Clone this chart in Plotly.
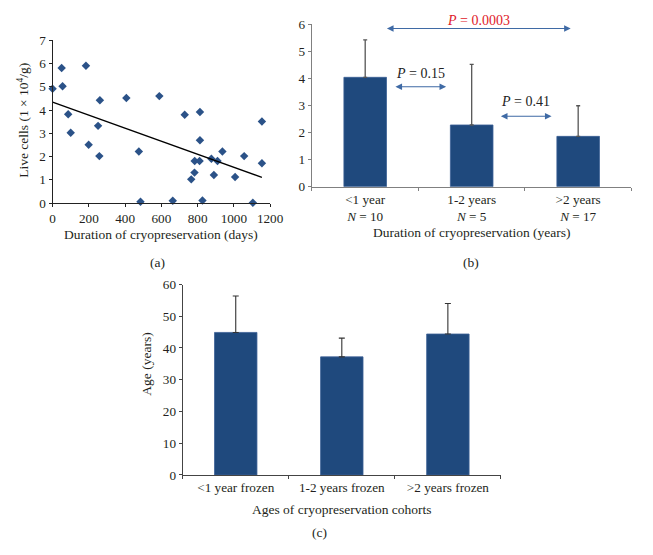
import numpy as np
import plotly.graph_objects as go

# ---------------- data ----------------
days = [0, 50, 55, 184, 86, 100, 199, 251, 261, 258, 407, 476, 485, 589, 663, 729,
        765, 783, 784, 811, 813, 813, 827, 876, 890, 910, 937, 1007, 1057, 1105, 1155, 1155]
live_cells = [4.92, 5.81, 5.02, 5.91, 3.82, 3.02, 2.51, 3.32, 4.42, 2.02, 4.52, 2.22, 0.06, 4.6, 0.1, 3.8,
              1.02, 1.31, 1.81, 1.81, 3.92, 2.7, 0.11, 1.91, 1.21, 1.81, 2.22, 1.12, 2.02, 0.01, 3.51, 1.71]

groups = ["<1 year", "1-2 years", ">2 years"]
group_labels = ["&lt;1 year", "1-2 years", "&gt;2 years"]
group_n = [10, 5, 17]
group_mean = [4.04, 2.28, 1.86]
group_sd = [1.38, 2.24, 1.13]

p_texts = ["P = 0.15", "P = 0.41", "P = 0.0003"]
p_colors = ["#222222", "#222222", "#e0202a"]
p_x0 = [0.27, 1.26, 0.19]
p_x1 = [0.76, 1.75, 1.93]
p_arrow_y = [3.69, 2.60, 5.84]
p_text_y = [4.19, 3.14, 6.13]

cohorts = ["<1 year frozen", "1-2 years frozen", ">2 years frozen"]
cohort_labels = ["&lt;1 year frozen", "1-2 years frozen", "&gt;2 years frozen"]
age_mean = [44.9, 37.2, 44.4]
age_sd = [11.5, 5.9, 9.6]

# ---------------- style ----------------
W, H = 653, 555
OFF = 8  # default page body margin
FONT = "Liberation Serif"
TXT = "#231f20"
BAR = "#1F497D"
MARK = "#2b5288"
TICK_SIZE = 13.2
TITLE_SIZE = 13.5


def px_x(p):
    return (p - OFF) / W


def px_y(p):
    return 1 - (p - OFF) / H


fig = go.Figure()

# (a) scatter + trend
fig.add_trace(go.Scatter(x=days, y=live_cells, mode="markers",
                         marker=dict(symbol="diamond", size=6.5, color=MARK),
                         xaxis="x", yaxis="y", showlegend=False, cliponaxis=False))
slope, intercept = np.polyfit(days, live_cells, 1)
xfit = [min(days), max(days)]
yfit = [intercept + slope * v for v in xfit]
fig.add_trace(go.Scatter(x=xfit, y=yfit, mode="lines", line=dict(color="black", width=1.3),
                         xaxis="x", yaxis="y", showlegend=False))

# (b) bars
fig.add_trace(go.Bar(x=groups, y=group_mean, marker=dict(color=BAR, line=dict(color="#3b6096", width=0.8)),
                     error_y=dict(type="data", array=group_sd, arrayminus=[0] * 3, symmetric=False,
                                  color="#555555", thickness=1.3, width=2),
                     xaxis="x2", yaxis="y2", showlegend=False))

# (c) bars
fig.add_trace(go.Bar(x=cohorts, y=age_mean, marker=dict(color=BAR, line=dict(color="#3b6096", width=0.8)),
                     error_y=dict(type="data", array=age_sd, arrayminus=[0] * 3, symmetric=False,
                                  color="#333333", thickness=1.1, width=3),
                     xaxis="x3", yaxis="y3", showlegend=False))

tickfont = dict(family=FONT, size=TICK_SIZE, color=TXT)

fig.update_layout(
    width=W, height=H, margin=dict(l=0, r=0, t=0, b=0),
    paper_bgcolor="white", plot_bgcolor="white",
    font=dict(family=FONT, color=TXT, size=TICK_SIZE),
    bargap=0.6,
    xaxis=dict(domain=[px_x(50.7), px_x(274)], range=[0, 1200], dtick=200, showgrid=False,
               zeroline=False, showline=True, linecolor="#222", linewidth=1, ticks="outside",
               ticklen=3, tickcolor="#222", tickfont=tickfont, anchor="y"),
    yaxis=dict(domain=[px_y(201.3), px_y(34)], range=[0, 7], dtick=1, showgrid=False,
               zeroline=False, showline=True, linecolor="#222", linewidth=1, ticks="outside",
               ticklen=3, tickcolor="#222", tickfont=tickfont, anchor="x"),
    xaxis2=dict(domain=[px_x(317), px_x(645)], range=[-0.5, 2.5], type="category", showgrid=False,
                tickvals=groups,
                ticktext=[f"{g}<br><i>N</i> = {n}" for g, n in zip(group_labels, group_n)],
                showline=True, linecolor="#808080", linewidth=1.2, ticks="outside", tickson="boundaries",
                ticklen=3, tickcolor="#808080", tickfont=tickfont, anchor="y2"),
    yaxis2=dict(domain=[px_y(184.5), px_y(17.5)], range=[0, 6], dtick=1, showgrid=False,
                zeroline=False, showline=True, linecolor="#808080", linewidth=1.2, ticks="outside",
                ticklen=3, tickcolor="#808080", tickfont=tickfont, anchor="x2"),
    xaxis3=dict(domain=[px_x(184.3), px_x(511)], range=[-0.5, 2.5], type="category", showgrid=False,
                tickvals=cohorts, ticktext=cohort_labels,
                showline=True, linecolor="#444", linewidth=1.2, ticks="outside", tickson="boundaries",
                ticklen=3, tickcolor="#444", tickfont=tickfont, anchor="y3"),
    yaxis3=dict(domain=[px_y(480.7), px_y(285)], range=[0, 60], dtick=10, showgrid=False,
                zeroline=False, showline=True, linecolor="#444", linewidth=1.2, ticks="outside",
                ticklen=3, tickcolor="#444", tickfont=tickfont, anchor="x3"),
)

ann = []
# titles / captions
ann.append(dict(text="Duration of cryopreservation (days)", x=px_x(162), y=px_y(234)))
ann.append(dict(text="(a)", x=px_x(158), y=px_y(262)))
ann.append(dict(text="Live cells (1 × 10<sup>4</sup>/g)", x=px_x(20), y=px_y(116), textangle=-90))
ann.append(dict(text="Duration of cryopreservation (years)", x=px_x(481.5), y=px_y(232)))
ann.append(dict(text="(b)", x=px_x(480), y=px_y(262)))
ann.append(dict(text="Ages of cryopreservation cohorts", x=px_x(348), y=px_y(516)))
ann.append(dict(text="(c)", x=px_x(325), y=px_y(540)))
ann.append(dict(text="Age (years)", x=px_x(147), y=px_y(367), textangle=-90))
for a in ann:
    a.update(xref="paper", yref="paper", showarrow=False, xanchor="center", yanchor="middle",
             font=dict(family=FONT, size=TITLE_SIZE, color=TXT))

# p-value arrows and labels (positions in the (b) axes' data coordinates)
xd = fig.layout.xaxis2.domain
yd = fig.layout.yaxis2.domain
for t, c, x0, x1, ya, yt in zip(p_texts, p_colors, p_x0, p_x1, p_arrow_y, p_text_y):
    ann.append(dict(x=x1, y=ya, ax=x0, ay=ya, xref="x2", yref="y2", axref="x2", ayref="y2",
                    text="", showarrow=True, arrowside="end+start", arrowhead=2, arrowsize=1.2,
                    arrowwidth=1.1, arrowcolor="#3f6aa5"))
    label = t.replace("P", "<i>P</i>")
    # convert data coords to paper so labels above the axis range still show
    xm = (x0 + x1) / 2
    px = xd[0] + (xm + 0.5) / 3 * (xd[1] - xd[0])
    py = yd[0] + yt / 6 * (yd[1] - yd[0])
    ann.append(dict(x=px, y=py, xref="paper", yref="paper", xanchor="center", yanchor="middle",
                    text=label, showarrow=False,
                    font=dict(family=FONT, size=14, color=c)))

fig.update_layout(annotations=ann)
fig.write_html("out.html")
